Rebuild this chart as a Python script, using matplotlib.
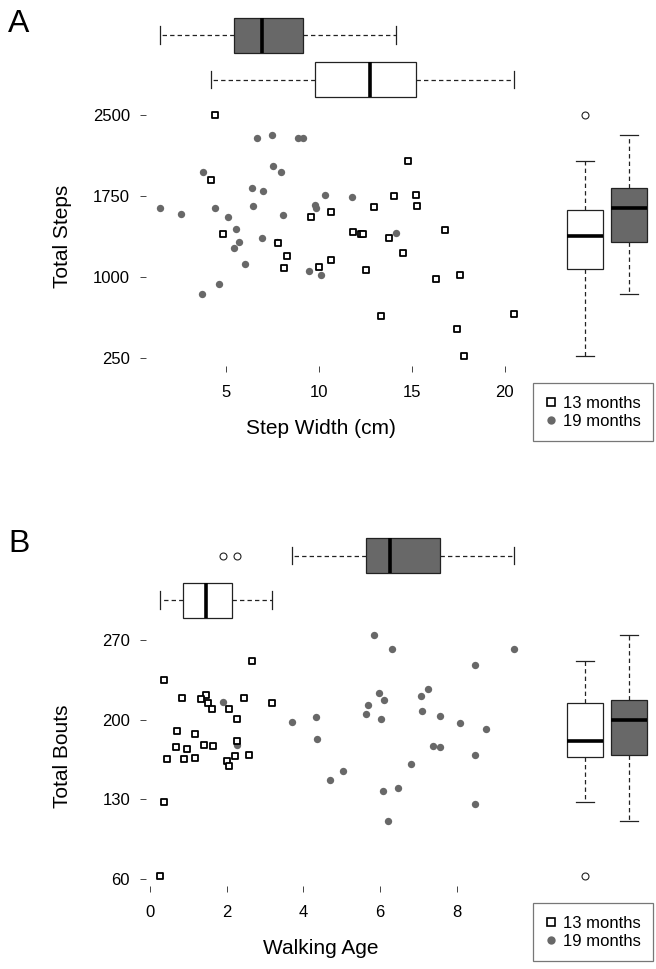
import numpy as np
import matplotlib
matplotlib.use("Agg")
import matplotlib.pyplot as plt
from matplotlib.lines import Line2D

plt.rcParams['font.family'] = ['Liberation Sans', 'DejaVu Sans']

# Panel A: step width (cm) vs total steps
a13_width = [4.41, 4.21, 14.82, 14.03, 15.2, 15.27, 12.97, 10.68, 9.57, 4.89,
             11.85, 12.28, 12.4, 13.78, 16.81, 7.83, 8.32, 14.55, 10.66, 8.12,
             10.0, 12.55, 16.32, 17.58, 13.35, 20.47, 17.42, 17.81]
a13_steps = [2503, 1901, 2076, 1754, 1763, 1659, 1647, 1600, 1554, 1401,
             1419, 1398, 1395, 1361, 1432, 1315, 1198, 1223, 1161, 1082,
             1097, 1063, 983, 1020, 640, 658, 523, 268]
a19_width = [6.67, 7.49, 8.89, 9.16, 3.8, 7.56, 7.96, 6.43, 6.99, 10.36,
             11.79, 1.49, 2.62, 4.46, 6.5, 5.12, 8.1, 9.82, 9.86, 5.54,
             6.97, 5.75, 5.43, 7.76, 14.14, 6.07, 9.48, 10.14, 4.66, 3.71]
a19_steps = [2288, 2319, 2285, 2291, 1975, 2027, 1972, 1828, 1797, 1757,
             1742, 1637, 1588, 1643, 1656, 1558, 1579, 1668, 1643, 1447,
             1364, 1324, 1272, 1330, 1413, 1125, 1057, 1023, 934, 842]

# Panel B: walking age vs total bouts
b13_age = [0.37, 2.65, 0.85, 1.45, 1.34, 1.51, 1.61, 2.45, 3.19, 2.07,
           2.26, 0.72, 1.18, 0.69, 0.96, 1.41, 1.64, 2.26, 0.44, 0.89,
           1.18, 2.02, 2.07, 2.23, 2.59, 0.37, 0.27]
b13_bouts = [234.9, 251.8, 218.7, 221.7, 217.9, 214.9, 209.1, 219.0, 214.9, 209.1,
             200.9, 190.0, 187.1, 175.4, 174.2, 178.0, 177.1, 181.5, 165.1, 165.1,
             166.3, 163.1, 159.0, 167.5, 168.4, 127.6, 62.0]
b19_age = [1.91, 2.26, 3.71, 4.33, 4.36, 4.69, 5.02, 5.84, 6.3, 5.98,
           6.1, 5.67, 5.63, 6.01, 6.07, 6.46, 6.21, 6.79, 7.05, 7.25,
           7.08, 7.57, 7.37, 7.57, 8.09, 8.48, 8.76, 8.47, 8.47, 9.48]
b19_bouts = [215.8, 177.4, 198.2, 202.0, 183.3, 146.4, 154.3, 274.7, 262.4, 223.1,
             217.0, 212.9, 205.0, 200.9, 137.3, 139.4, 110.7, 160.5, 220.8, 226.9,
             207.9, 202.9, 177.1, 175.4, 197.1, 247.7, 192.1, 168.4, 125.6, 262.4]

labels = ["13 months", "19 months"]

W, H = 656, 969
GRAY = "#686868"


def px_axes(fig, left, top, right, bottom):
    return fig.add_axes([left / W, 1 - bottom / H, (right - left) / W, (bottom - top) / H])


def tukey_stats(vals):
    # R style five-number summary (hinges) with 1.5 IQR whiskers
    v = np.sort(np.asarray(vals, dtype=float))
    n = len(v)
    q1 = np.median(v[:(n + 1) // 2])
    q3 = np.median(v[n // 2:])
    iqr = q3 - q1
    ok = (v >= q1 - 1.5 * iqr) & (v <= q3 + 1.5 * iqr)
    return dict(med=np.median(v), q1=q1, q3=q3, whislo=v[ok].min(),
                whishi=v[ok].max(), fliers=v[~ok])


def draw_boxes(ax, data, positions, width, vert):
    stats = [tukey_stats(d) for d in data]
    bp = ax.bxp(stats, positions=positions, widths=width, vert=vert,
                patch_artist=True, manage_ticks=False,
                boxprops=dict(edgecolor="#222222", linewidth=0.9),
                medianprops=dict(color="black", linewidth=2.6),
                whiskerprops=dict(color="#222222", linewidth=0.9, linestyle=(0, (3.5, 2.5))),
                capprops=dict(color="#222222", linewidth=0.9),
                flierprops=dict(marker="o", markersize=5, markerfacecolor="white",
                                markeredgecolor="#222222", markeredgewidth=0.8))
    bp["boxes"][0].set_facecolor("white")
    bp["boxes"][1].set_facecolor(GRAY)


def style_scatter_axes(ax):
    for s in ax.spines.values():
        s.set_visible(False)
    ax.tick_params(direction="out", length=4.5, width=0.7, color="#444444",
                   labelsize=12, pad=7)
    ax.tick_params(axis="x", pad=9)


def make_panel(fig, off, x13, y13, x19, y19, xlim, ylim, xticks, yticks,
               xlabel, ylabel, letter, top_pos, side_pos):
    ax = px_axes(fig, 146, 105 + off, 528, 366 + off)
    ax.scatter(x19, y19, s=28, marker="o", color=GRAY, linewidths=0, zorder=2)
    ax.scatter(x13, y13, s=24, marker="s", facecolors="white",
               edgecolors="black", linewidths=1.3, zorder=3)
    ax.set_xlim(xlim)
    ax.set_ylim(ylim)
    ax.set_xticks(xticks)
    ax.set_yticks(yticks)
    style_scatter_axes(ax)

    # marginal box plots along x (top)
    axt = px_axes(fig, 146, off, 528, 105 + off)
    draw_boxes(axt, [x13, x19], [top_pos[0], top_pos[1]], 35, vert=False)
    axt.set_xlim(xlim)
    axt.set_ylim(105, 0)
    axt.axis("off")

    # marginal box plots along y (right)
    axs = px_axes(fig, 546, 105 + off, 656, 366 + off)
    draw_boxes(axs, [y13, y19], side_pos, 36, vert=True)
    axs.set_xlim(546, 656)
    axs.set_ylim(ylim)
    axs.axis("off")

    handles = [Line2D([], [], linestyle="none", marker="s", markersize=6,
                      markerfacecolor="white", markeredgecolor="black",
                      markeredgewidth=1.2),
               Line2D([], [], linestyle="none", marker="o", markersize=6,
                      markerfacecolor=GRAY, markeredgewidth=0)]
    leg = ax.legend(handles, labels, loc="upper left",
                    bbox_to_anchor=(533 / W, 1 - (383 + off) / H),
                    bbox_transform=fig.transFigure, borderaxespad=0,
                    fontsize=12, fancybox=False, handlelength=0.7,
                    handletextpad=0.35, borderpad=0.75, labelspacing=0.2)
    leg.get_frame().set_edgecolor("#555555")
    leg.get_frame().set_linewidth(0.9)

    fig.text(321 / W, 1 - (428 + off) / H, xlabel, fontsize=15,
             ha="center", va="center")
    fig.text(63 / W, 1 - (236 + off) / H, ylabel, fontsize=15,
             rotation=90, ha="center", va="center")
    fig.text(8 / W, 1 - (24 + off) / H, letter, fontsize=23,
             ha="left", va="center")


fig = plt.figure(figsize=(W / 100, H / 100), dpi=100)

make_panel(fig, 0, a13_width, a13_steps, a19_width, a19_steps,
           (0.73, 21.24), (179, 2592), [5, 10, 15, 20], [250, 1000, 1750, 2500],
           "Step Width (cm)", "Total Steps", "A", (79.5, 35), (585, 629))
make_panel(fig, 520, b13_age, b13_bouts, b19_age, b19_bouts,
           (-0.1, 9.85), (53.5, 283.2), [0, 2, 4, 6, 8], [60, 130, 200, 270],
           "Walking Age", "Total Bouts", "B", (600 - 520, 555.5 - 520), (585, 629))

fig.savefig("out.png", dpi=100)
